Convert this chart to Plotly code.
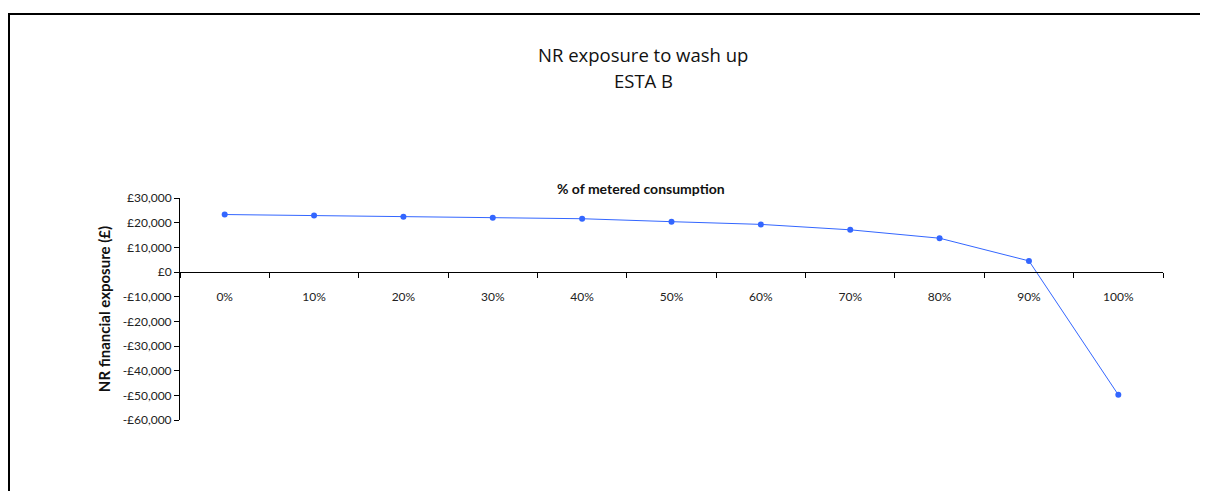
import plotly.graph_objects as go

categories = ["0%", "10%", "20%", "30%", "40%", "50%", "60%", "70%", "80%", "90%", "100%"]
exposure = [23300, 22900, 22400, 22000, 21600, 20400, 19300, 17100, 13700, 4500, -49800]
y_tickvals = [30000, 20000, 10000, 0, -10000, -20000, -30000, -40000, -50000, -60000]
y_ticktext = ["£30,000", "£20,000", "£10,000", "£0", "-£10,000", "-£20,000", "-£30,000",
              "-£40,000", "-£50,000", "-£60,000"]

# page has an 8px body margin; work in page coords and subtract it
OFF = 8
W, H = 1208 - OFF, 491 - OFF
L = 180 - OFF
T = 198 - OFF
R = W - (1163 - OFF)
B = H - (420 - OFF)
pw = W - L - R
ph = H - T - B

FONT = "Lato, 'Open Sans', sans-serif"

fig = go.Figure()
fig.add_trace(go.Scatter(
    x=categories, y=exposure, mode="lines+markers",
    line=dict(color="#3366FF", width=1),
    marker=dict(color="#3366FF", size=6),
    showlegend=False,
))

ymin, ymax = -60000, 30000
zero_frac = (0 - ymin) / (ymax - ymin)

def px_x(p):
    return (p - OFF - L) / pw

def px_y(p):
    return (H - (p - OFF) - B) / ph

title_font = dict(size=18.5, color="#111111", family="'Open Sans', sans-serif")

fig.update_layout(
    width=W, height=H,
    margin=dict(l=L, r=R, t=T, b=B),
    paper_bgcolor="white", plot_bgcolor="white",
    font=dict(family=FONT, color="#222222", size=12),
    xaxis=dict(
        type="category", anchor="free", position=zero_frac,
        showline=True, linecolor="black", linewidth=1,
        ticks="outside", tickson="boundaries", ticklen=5, tickcolor="black",
        ticklabelstandoff=14, showgrid=False, zeroline=False,
        tickfont=dict(size=12, color="#222222"),
        range=[-0.5, 10.5],
    ),
    yaxis=dict(
        range=[ymin, ymax], tickvals=y_tickvals, ticktext=y_ticktext,
        showline=True, linecolor="black", linewidth=1,
        ticks="outside", ticklen=5, tickcolor="black",
        showgrid=False, zeroline=False,
        tickfont=dict(size=12, color="#222222"),
        title=dict(text="<b>NR financial exposure (£)</b>", font=dict(size=15, color="#111111"),
                   standoff=8),
    ),
    annotations=[
        dict(text="NR exposure to wash up", xref="paper", yref="paper",
             x=px_x(643), y=px_y(54), xanchor="center", yanchor="middle",
             showarrow=False, font=title_font),
        dict(text="ESTA B", xref="paper", yref="paper",
             x=px_x(643), y=px_y(80), xanchor="center", yanchor="middle",
             showarrow=False, font=title_font),
        dict(text="<b>% of metered consumption</b>", xref="paper", yref="paper",
             x=px_x(641), y=px_y(188), xanchor="center", yanchor="middle",
             showarrow=False, font=dict(size=14, color="#111111")),
    ],
    shapes=[dict(
        type="rect", xref="paper", yref="paper",
        x0=px_x(9), x1=px_x(1230),
        y0=px_y(520), y1=px_y(14),
        line=dict(color="black", width=2), fillcolor="rgba(0,0,0,0)", layer="below",
    )],
)

fig.write_html("out.html")
